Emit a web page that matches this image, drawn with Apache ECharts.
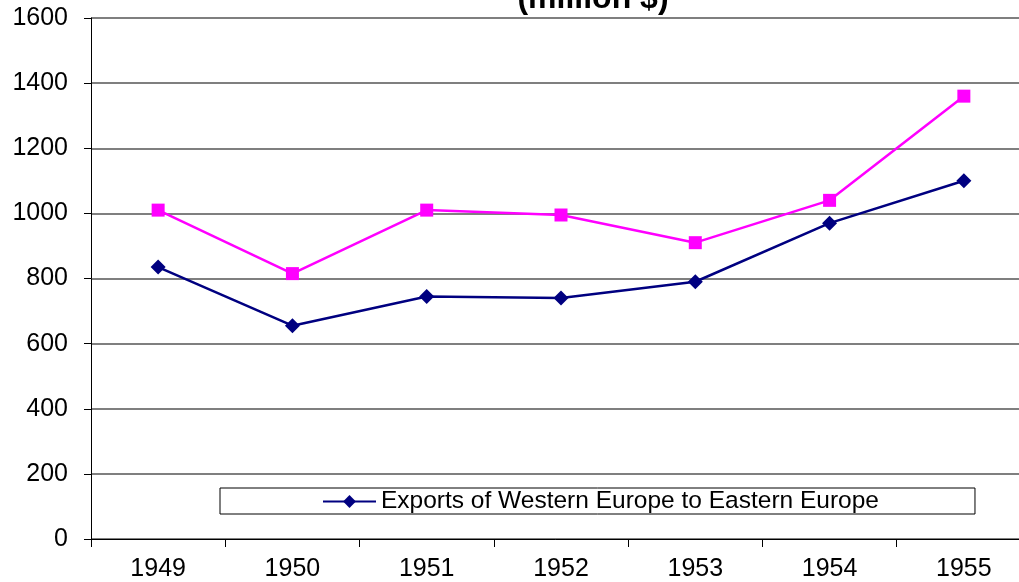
<!DOCTYPE html>
<html>
<head>
<meta charset="utf-8">
<script src="https://cdn.jsdelivr.net/npm/echarts@6/dist/echarts.min.js"></script>
<style>
  html, body { margin: 0; padding: 0; background: #fff; }
  #chart { width: 1019px; height: 582px; }
</style>
</head>
<body>
<div id="chart"></div>
<script>
// 数据
const years = ['1949', '1950', '1951', '1952', '1953', '1954', '1955']
const exportsToEast = [835, 655, 745, 740, 790, 970, 1100]
const importsFromEast = [1010, 815, 1010, 995, 910, 1040, 1360]

const chart = echarts.init(document.getElementById('chart'))
const font = 'Liberation Sans, Arial, sans-serif'

const option = {
  animation: false,
  title: {
    text: '(million $)',
    left: 588,
    top: -22,
    textAlign: 'center',
    textStyle: {
      fontFamily: font,
      fontSize: 32,
      fontWeight: 'bold',
      color: '#000'
    }
  },
  legend: {
    data: ['Exports of Western Europe to Eastern Europe'],
    left: 220,
    top: 488,
    padding: [1, 96, 0, 102],
    itemWidth: 53,
    itemHeight: 16,
    borderColor: '#000',
    borderWidth: 1,
    backgroundColor: '#fff',
    textStyle: {
      fontFamily: font,
      fontSize: 24.5,
      color: '#000'
    }
  },
  grid: {
    left: 91,
    width: 940,
    top: 18,
    bottom: 43,
    outerBoundsMode: 'none',
    containLabel: false
  },
  xAxis: {
    type: 'category',
    data: years,
    boundaryGap: true,
    axisLine: { lineStyle: { color: '#000', width: 1 } },
    axisTick: { show: true, length: 8, lineStyle: { color: '#000' } },
    axisLabel: {
      fontFamily: font,
      fontSize: 25,
      color: '#000',
      margin: 18
    }
  },
  yAxis: {
    type: 'value',
    min: 0,
    max: 1600,
    interval: 200,
    axisLine: { show: true, lineStyle: { color: '#000', width: 1 } },
    axisTick: { show: true, length: 7, lineStyle: { color: '#000' } },
    axisLabel: {
      fontFamily: font,
      fontSize: 25,
      color: '#000',
      margin: 23,
      formatter: (v) => String(v)
    },
    splitLine: {
      lineStyle: { color: '#555', width: 1.5 }
    }
  },
  series: [
    {
      name: 'Exports of Western Europe to Eastern Europe',
      type: 'line',
      data: exportsToEast,
      symbol: 'diamond',
      symbolSize: 15,
      lineStyle: { color: '#000080', width: 2.5 },
      itemStyle: { color: '#000080' }
    },
    {
      name: 'Imports of Western Europe from Eastern Europe',
      type: 'line',
      data: importsFromEast,
      symbol: 'rect',
      symbolSize: 13,
      lineStyle: { color: '#ff00ff', width: 2.5 },
      itemStyle: { color: '#ff00ff' }
    }
  ]
}

chart.setOption(option)
</script>
</body>
</html>
